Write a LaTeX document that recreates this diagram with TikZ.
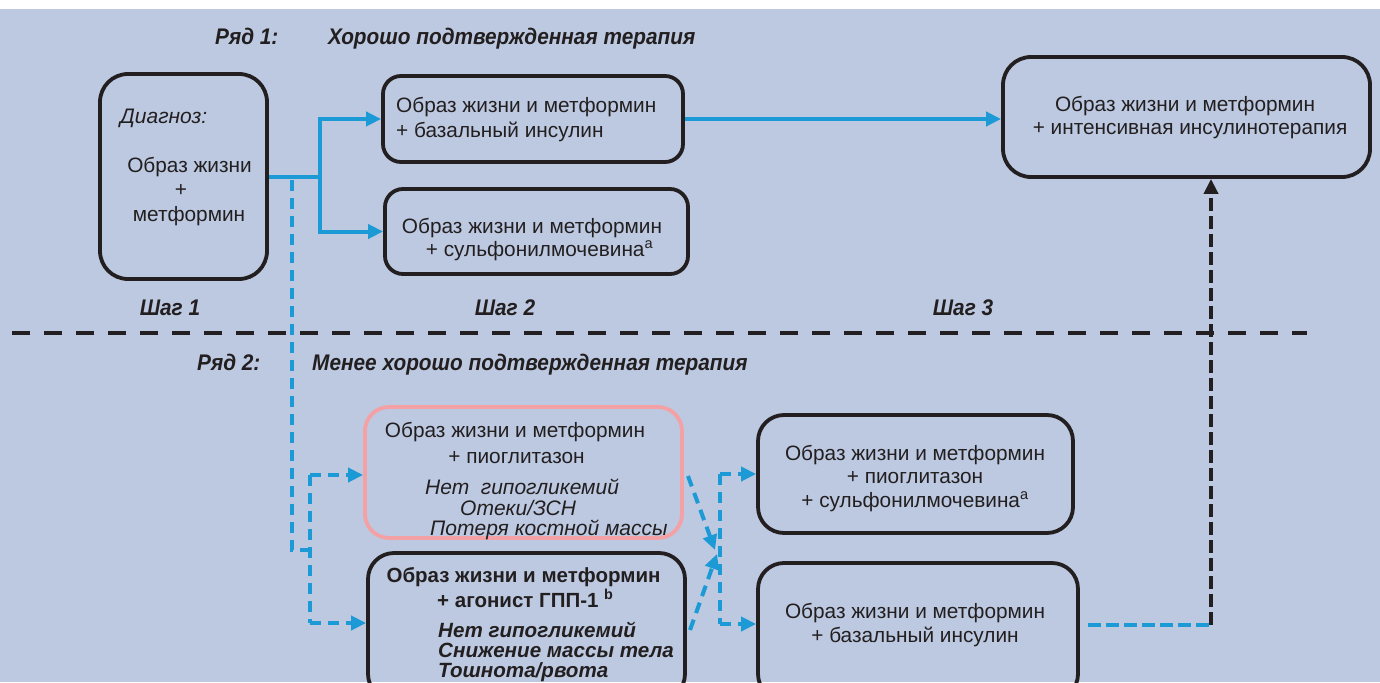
\documentclass[tikz,border=0pt]{standalone}
\usepackage{fontspec}
\setmainfont{Liberation Sans}
\newfontfamily\headfont{Liberation Sans}[FakeStretch=0.92]
\usetikzlibrary{arrows.meta}
\definecolor{bgc}{HTML}{BCC9E1}
\definecolor{ablue}{HTML}{1C9AD6}
\definecolor{apink}{HTML}{F3A1A5}
\definecolor{ink}{HTML}{231F20}
\tikzset{
  box/.style={draw=ink,line width=3.8pt,rounded corners=#1,inner sep=0pt},
  box/.default=22pt,
  txt/.style={inner sep=0pt,text=ink,font=\fontsize{20.8}{24}\selectfont},
  itx/.style={inner sep=0pt,text=ink,font=\itshape\fontsize{21}{24}\selectfont},
  btx/.style={inner sep=0pt,text=ink,font=\bfseries\fontsize{20.5}{24}\selectfont},
  bitx/.style={inner sep=0pt,text=ink,font=\bfseries\itshape\fontsize{20.6}{24}\selectfont},
  hd/.style={inner sep=0pt,text=ink,font=\headfont\bfseries\itshape\fontsize{22.6}{24}\selectfont},
  tip/.style={-{Triangle[length=15pt,width=14pt]}},
  sblue/.style={draw=ablue,line width=4pt},
  dblue/.style={draw=ablue,line width=4pt,dash pattern=on 11pt off 7pt},
  dblack/.style={draw=ink,line width=4pt,dash pattern=on 13pt off 5pt},
  sep/.style={draw=ink,line width=4pt,dash pattern=on 18pt off 14pt}
}
\begin{document}
\begin{tikzpicture}[x=1pt,y=-1pt]
\useasboundingbox (0,0) rectangle (1380,682);
\fill[white] (0,0) rectangle (1380,9);
\fill[bgc] (0,9) rectangle (1380,682);
\begin{scope}
\clip (0,0) rectangle (1380,682);

% headings
\node[hd,anchor=base west] (r1) at (215,45) {Ряд 1:};
\node[hd,anchor=base west] (r1t) at (328,45) {Хорошо подтвержденная терапия};
\node[hd,anchor=base] (s1) at (170,315) {Шаг 1};
\node[hd,anchor=base] (s2) at (505,315) {Шаг 2};
\node[hd,anchor=base] (s3) at (963,315) {Шаг 3};
\node[hd,anchor=base west] (r2) at (197,370) {Ряд 2:};
\node[hd,anchor=base west] (r2t) at (312,370) {Менее хорошо подтвержденная терапия};

% separator
\coordinate (sepL) at (12,333);
\coordinate (sepR) at (1307,333);
\draw[sep] (sepL) -- (sepR);

% boxes
\node[box=28pt,minimum width=167pt,minimum height=205pt] (diag) at (183.5,176.5) {};
\node[box=18pt,minimum width=300pt,minimum height=86pt] (A) at (533,119) {};
\node[box=18pt,minimum width=303pt,minimum height=85pt] (B) at (536.5,231.5) {};
\node[box=28pt,minimum width=367pt,minimum height=120pt] (C) at (1186.5,117) {};
\node[box=24pt,draw=apink,minimum width=317pt,minimum height=131pt] (P) at (523.5,472.5) {};
\node[box=26pt,minimum width=317pt,minimum height=147pt] (G) at (526.5,626.5) {};
\node[box=26pt,minimum width=315pt,minimum height=118pt] (D) at (915.5,474) {};
\node[box=26pt,minimum width=320pt,minimum height=137pt] (E) at (918,631.5) {};

% texts
\node[itx,anchor=base west] (dg0) at (120,124) {Диагноз:};
\node[txt,anchor=base] (dg1) at (189.5,172) {Образ жизни};
\node[txt,anchor=base] (dg2) at (181,196) {+};
\node[txt,anchor=base] (dg3) at (189,221) {метформин};

\node[txt,anchor=base west] (a1) at (396,113) {Образ жизни и метформин};
\node[txt,anchor=base west] (a2) at (396,137) {+ базальный инсулин};

\node[txt,anchor=base] (b1) at (532,233) {Образ жизни и метформин};
\node[txt,anchor=base] (b2) at (539.5,256) {+ сульфонилмочевина\textsuperscript{a}};

\node[txt,anchor=base] (c1) at (1185,112) {Образ жизни и метформин};
\node[txt,anchor=base] (c2) at (1190,135) {+ интенсивная инсулинотерапия};

\node[txt,anchor=base] (p1) at (515,437) {Образ жизни и метформин};
\node[txt,anchor=base] (p2) at (516.5,463) {+ пиоглитазон};
\node[itx,anchor=base west] (p3) at (425,494) {Нет\ \ гипогликемий};
\node[itx,anchor=base west] (p4) at (460,515) {Отеки/ЗСН};
\node[itx,anchor=base west] (p5) at (430,535) {Потеря костной массы};

\node[btx,anchor=base] (g1) at (523.5,582) {Образ жизни и метформин};
\node[btx,anchor=base west] (g2) at (437,607) {+ агонист ГПП-1 \textsuperscript{b}};
\node[bitx,anchor=base west] (g3) at (438,637) {Нет гипогликемий};
\node[bitx,anchor=base west] (g4) at (438,657) {Снижение массы тела};
\node[bitx,anchor=base west] (g5) at (438,677) {Тошнота/рвота};

\node[txt,anchor=base] (d1) at (915,460) {Образ жизни и метформин};
\node[txt,anchor=base] (d2) at (915,483) {+ пиоглитазон};
\node[txt,anchor=base] (d3) at (915,507) {+ сульфонилмочевина\textsuperscript{a}};

\node[txt,anchor=base] (e1) at (915,618) {Образ жизни и метформин};
\node[txt,anchor=base] (e2) at (915,642) {+ базальный инсулин};

% solid blue connectors
\draw[sblue] (diag.east) -- ++(51,0) coordinate (split);
\draw[sblue,tip] (split) |- (A.west);
\draw[sblue,tip] (split) |- (B.west);
\draw[sblue,tip] (A.east) -- (A.east -| C.west);

% dashed blue: row 2 left
\coordinate (dtop) at (292,180);
\coordinate (dbot) at (292,550);
\coordinate (dj) at (310,550);
\coordinate (jp) at (310,475);
\coordinate (jg) at (310,623);
\draw[dblue] (dtop) -- (dbot) -- (dj);
\draw[dblue] (jp) -- (jg);
\draw[dblue,tip] (jp) -- (jp -| P.west);
\draw[dblue,tip] (jg) -- (jg -| G.west);

% dashed blue: middle junction
\coordinate (pd) at (688,476);
\coordinate (gd) at (690,630);
\coordinate (mid1) at (715,550);
\coordinate (mid2) at (717,554);
\draw[dblue,tip] (pd) -- (mid1);
\draw[dblue,tip] (gd) -- (mid2);
\coordinate (jd) at (720,474);
\coordinate (je) at (720,624);
\draw[dblue] (jd) -- (je);
\draw[dblue,tip] (jd) -- (jd -| D.west);
\draw[dblue,tip] (je) -- (je -| E.west);

% to step 3
\coordinate (eo) at (1088,625);
\coordinate (turn) at (1211,625);
\draw[draw=ablue,line width=4pt,dash pattern=on 13pt off 5pt] (eo) -- (turn);
\draw[dblack,tip] (turn) -- (turn |- C.south);
\end{scope}
\end{tikzpicture}
\end{document}
